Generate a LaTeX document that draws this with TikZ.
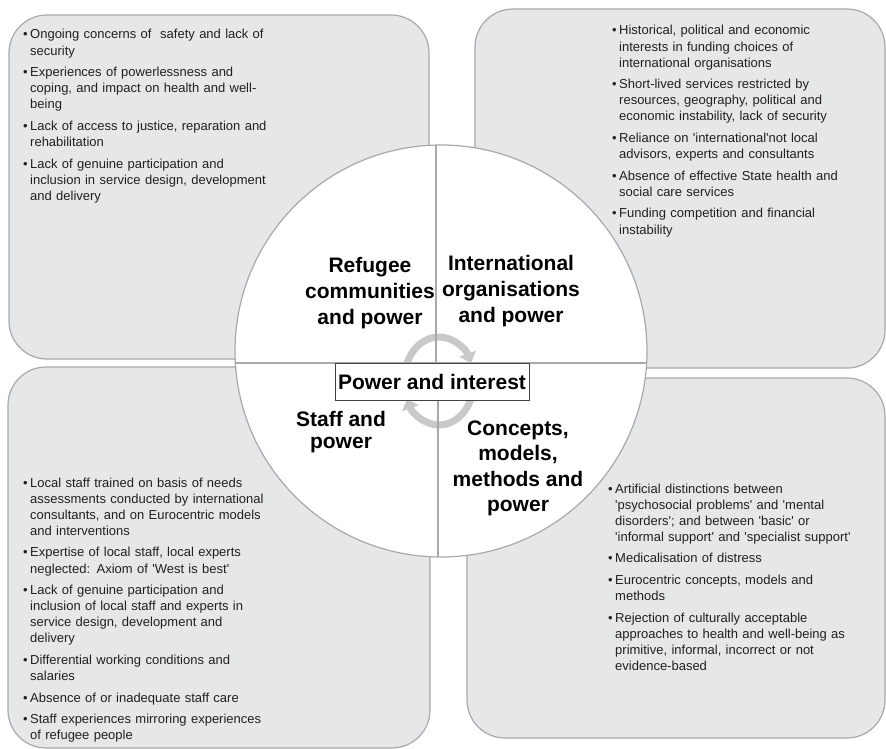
\documentclass[tikz,border=0pt]{standalone}
\usepackage{fontspec}
\setmainfont{Liberation Sans}[Ligatures=TeXOff]
\usetikzlibrary{arrows.meta}
\definecolor{panelgray}{HTML}{E6E7E8}
\definecolor{edgegray}{HTML}{A7A9AC}
\definecolor{ringgray}{HTML}{C8C9CB}
\definecolor{inkgray}{HTML}{231F20}
\newcommand{\bitem}[1]{\hangindent=7pt\hangafter=1\noindent\makebox[7pt][l]{\textbullet}#1\par}

\begin{document}
\begin{tikzpicture}[x=1pt,y=-1pt,
    panel/.style={draw=edgegray,fill=panelgray,line width=1.2pt,rounded corners=38pt},
    blist/.style={anchor=base west,inner sep=0pt,text width=280pt,align=left,text=inkgray,
      font=\fontsize{13}{16.1}\selectfont,execute at begin node={\setlength{\parskip}{5.5pt}}},
    quad/.style={align=center,inner sep=0pt,anchor=base,font=\fontsize{21}{26}\selectfont\bfseries},
    cyc/.style={draw=ringgray,line width=7pt,-{Triangle[width=17pt,length=10pt]}}]
  \useasboundingbox[fill=white] (0,0) rectangle (886,749);

  \draw[panel] (9,15) rectangle (429,359);
  \draw[panel] (475,9) rectangle (885,368);
  \draw[panel] (8,367) rectangle (430,748);
  \draw[panel] (467,378) rectangle (885,738);

  \fill[white] (441,351) circle[radius=206];
  \draw[cyc] (439,381) ++(190:35 and 44) arc[start angle=190,end angle=336,x radius=35,y radius=44];
  \draw[cyc] (439,381) ++(10:35 and 44) arc[start angle=10,end angle=156,x radius=35,y radius=44];
  \begin{scope}
    \clip (441,351) circle[radius=206];
    \draw[edgegray,line width=1.2pt] (200,363) -- (700,363);
    \draw[edgegray,line width=1.8pt] (436,100) -- (436,363);
    \draw[edgegray,line width=1.8pt] (438,363) -- (438,600);
  \end{scope}
  \draw[edgegray,line width=1.2pt] (441,351) circle[radius=206];

  \node[draw=inkgray!85,fill=white,line width=0.9pt,minimum width=194pt,minimum height=37pt,inner sep=0pt,
    font=\fontsize{21}{26}\selectfont\bfseries] (hub) at (432,381.5) {Power and interest};

  \node[quad] (refugee) at (370,324) {Refugee\\communities\\and power};
  \node[quad] (intl) at (511,322) {International\\organisations\\and power};
  \node[quad,font=\fontsize{21}{21.5}\selectfont\bfseries] (staff) at (341,448) {Staff and\\power};
  \node[quad,font=\fontsize{21}{25.5}\selectfont\bfseries] (concepts) at (518,511.5) {Concepts,\\models,\\methods and\\power};

  \node[blist] (reflist) at (23,39) {%
    \bitem{Ongoing concerns of\ \ safety and lack of\newline security}
    \bitem{Experiences of powerlessness and\newline coping, and impact on health and well-\newline being}
    \bitem{Lack of access to justice, reparation and\newline rehabilitation}
    \bitem{Lack of genuine participation and\newline inclusion in service design, development\newline and delivery}};
  \node[blist] (intllist) at (612,35) {%
    \bitem{Historical, political and economic\newline interests in funding choices of\newline international organisations}
    \bitem{Short-lived services restricted by\newline resources, geography, political and\newline economic instability, lack of security}
    \bitem{Reliance on 'international'not local\newline advisors, experts and consultants}
    \bitem{Absence of effective State health and\newline social care services}
    \bitem{Funding competition and financial\newline instability}};
  \node[blist] (stafflist) at (23,487) {%
    \bitem{Local staff trained on basis of needs\newline assessments conducted by international\newline consultants, and on Eurocentric models\newline and interventions}
    \bitem{Expertise of local staff, local experts\newline neglected: Axiom of 'West is best'}
    \bitem{Lack of genuine participation and\newline inclusion of local staff and experts in\newline service design, development and\newline delivery}
    \bitem{Differential working conditions and\newline salaries}
    \bitem{Absence of or inadequate staff care}
    \bitem{Staff experiences mirroring experiences\newline of refugee people}};
  \node[blist] (conceptlist) at (608,493) {%
    \bitem{Artificial distinctions between\newline 'psychosocial problems' and 'mental\newline disorders'; and between 'basic' or\newline 'informal support' and 'specialist support'}
    \bitem{Medicalisation of distress}
    \bitem{Eurocentric concepts, models and\newline methods}
    \bitem{Rejection of culturally acceptable\newline approaches to health and well-being as\newline primitive, informal, incorrect or not\newline evidence-based}};
\end{tikzpicture}
\end{document}
